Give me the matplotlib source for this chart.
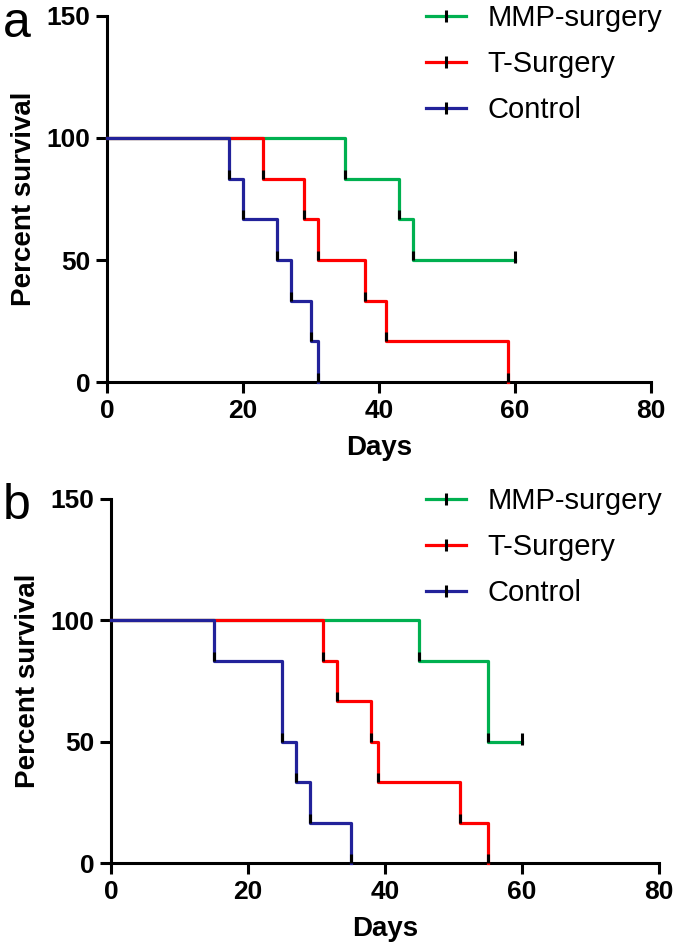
import matplotlib
matplotlib.use("Agg")
import matplotlib.pyplot as plt
from matplotlib.lines import Line2D

plt.rcParams['font.family'] = ['Liberation Sans', 'DejaVu Sans']

# panel a: Kaplan-Meier steps (day of event, survival % after event)
mmp_a_days = [0, 35, 43, 45, 60]
mmp_a_surv = [100, 83.3, 66.7, 50, 50]
tsurg_a_days = [0, 23, 29, 31, 38, 41, 59]
tsurg_a_surv = [100, 83.3, 66.7, 50, 33.3, 16.7, 0]
control_a_days = [0, 18, 20, 25, 27, 30, 31]
control_a_surv = [100, 83.3, 66.7, 50, 33.3, 16.7, 0]

# panel b
mmp_b_days = [0, 45, 55, 60]
mmp_b_surv = [100, 83.3, 50, 50]
tsurg_b_days = [0, 31, 33, 38, 39, 51, 55]
tsurg_b_surv = [100, 83.3, 66.7, 50, 33.3, 16.7, 0]
control_b_days = [0, 15, 25, 27, 29, 35]
control_b_surv = [100, 83.3, 50, 33.3, 16.7, 0]

labels = ["MMP-surgery", "T-Surgery", "Control"]
colors = ["#00B050", "#FF0000", "#22229A"]
x_ticks = [0, 20, 40, 60, 80]
y_ticks = [0, 50, 100, 150]


def draw_panel(ax, series, letter, letter_y, leg_xy):
    # green first, blue last so blue sits on top
    for (days, surv), c in zip(series, colors):
        ax.step(days, surv, where='post', color=c, lw=2.3, clip_on=False, zorder=3)
        # black tick at every event (new level), censored tick at the end
        for i in range(1, len(days)):
            if i == len(days) - 1 and surv[i] == surv[i - 1]:
                ax.vlines(days[i], surv[i] - 1.2, surv[i] + 3.6, color='k', lw=2.2, clip_on=False, zorder=5)
            else:
                ax.vlines(days[i], surv[i], surv[i] + 3.6, color='k', lw=2.2, clip_on=False, zorder=5)

    ax.set_xlim(0, 80)
    ax.set_ylim(0, 150)
    ax.set_xticks(x_ticks)
    ax.set_yticks(y_ticks)
    for s in ['top', 'right']:
        ax.spines[s].set_visible(False)
    for s in ['left', 'bottom']:
        ax.spines[s].set_linewidth(2.2)
    ax.tick_params(width=2.2, length=8, labelsize=19, direction='out', pad=4)
    for t in ax.get_xticklabels() + ax.get_yticklabels():
        t.set_fontweight('bold')
    ax.set_xlabel('Days', fontsize=20, fontweight='bold', labelpad=9)
    ax.set_ylabel('Percent survival', fontsize=20, fontweight='bold', labelpad=7)

    handles = [Line2D([], [], color=c, lw=2.3, marker='|', mec='k', mew=2.2, ms=8) for c in colors]
    ax.legend(handles, labels, loc='upper left', bbox_to_anchor=leg_xy,
              bbox_transform=ax.figure.transFigure, frameon=False, fontsize=21,
              handlelength=1.37, handletextpad=0.75, labelspacing=0.62,
              borderpad=0, borderaxespad=0, numpoints=1)
    ax.figure.text(0.004, letter_y, letter, fontsize=36, va='top', ha='left')


fig = plt.figure(figsize=(6.75, 9.51), dpi=100)
ax_a = fig.add_axes([0.1585, 0.5983, 0.806, 0.3849])
ax_b = fig.add_axes([0.1644, 0.0925, 0.812, 0.3828])

draw_panel(ax_a,
           [(mmp_a_days, mmp_a_surv), (tsurg_a_days, tsurg_a_surv), (control_a_days, control_a_surv)],
           'a', 0.999, (426 / 675, 1 - 4 / 951))
draw_panel(ax_b,
           [(mmp_b_days, mmp_b_surv), (tsurg_b_days, tsurg_b_surv), (control_b_days, control_b_surv)],
           'b', 1 - 483 / 951, (426 / 675, 1 - 487 / 951))

fig.savefig('out.png', dpi=100)
